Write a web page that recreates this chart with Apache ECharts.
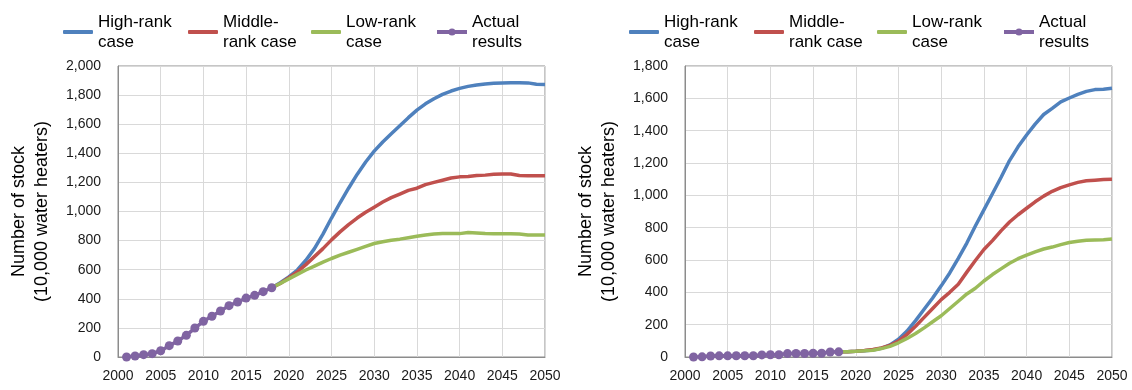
<!DOCTYPE html>
<html>
<head>
<meta charset="utf-8">
<script src="https://cdn.jsdelivr.net/npm/echarts@6/dist/echarts.min.js"></script>
<style>
html,body{margin:0;padding:0;background:#fff;}
#c{width:1132px;height:390px;}
</style>
</head>
<body>
<div id="c"></div>
<script>
// ---- data ----
const seriesNames = ["High-rank\ncase", "Middle-\nrank case", "Low-rank\ncase", "Actual\nresults"];
const yAxisTitle = "Number of stock\n(10,000 water heaters)";

const actualYears = [2001,2002,2003,2004,2005,2006,2007,2008,2009,2010,2011,2012,2013,2014,2015,2016,2017,2018];
const forecastYears = [2018,2019,2020,2021,2022,2023,2024,2025,2026,2027,2028,2029,2030,2031,2032,2033,2034,2035,2036,2037,2038,2039,2040,2041,2042,2043,2044,2045,2046,2047,2048,2049,2050];

const leftActual = [0,7,16,23,43,78,110,149,199,245,280,316,353,378,405,424,449,476];
const leftHigh = [476,510,550,598,665,745,845,955,1060,1160,1255,1340,1415,1478,1535,1590,1645,1697,1740,1775,1805,1828,1846,1860,1870,1877,1882,1884,1885,1885,1884,1875,1873];
const leftMid  = [476,505,545,585,635,690,745,805,860,910,955,995,1030,1065,1095,1120,1145,1160,1185,1200,1215,1230,1238,1240,1248,1250,1256,1258,1258,1248,1245,1245,1245];
const leftLow  = [476,505,537,568,598,625,652,677,700,720,740,760,780,792,802,810,820,830,838,845,848,848,848,855,852,848,847,847,847,845,838,838,838];

const rightActual = [0,1,6,7,7,8,8,8,13,14,14,21,22,22,23,23,31,32];
const rightHigh = [32,33,35,38,43,54,75,110,160,225,295,365,440,520,610,705,810,910,1010,1110,1215,1300,1373,1440,1500,1538,1578,1602,1625,1643,1654,1656,1662];
const rightMid  = [32,33,36,40,46,56,72,98,140,190,245,300,355,400,450,525,597,665,720,780,835,880,920,960,995,1025,1048,1065,1080,1090,1094,1098,1099];
const rightLow  = [32,33,35,38,42,52,66,88,115,145,180,218,255,300,345,390,425,470,510,545,580,608,630,650,668,680,695,708,716,722,724,726,730];

const xMin = 2000, xMax = 2050, xStep = 5;
const leftYMax = 2000, rightYMax = 1800, yStep = 200;

// ---- styles ----
const colors = ["#4f81bd", "#c0504d", "#9bbb59", "#8064a2"];
const FONT = "Liberation Sans, Arial, sans-serif";

function zip(xs, ys){ return xs.map((x,i)=>[x, ys[i]]); }

function xAxisCfg(gi){
  return {
    type:'value', gridIndex:gi, min:xMin, max:xMax, interval:xStep,
    axisLine:{show:true, lineStyle:{color:'#8c8c8c', width:1}},
    axisTick:{show:false},
    axisLabel:{color:'#1a1a1a', fontFamily:FONT, fontSize:14, margin:12, formatter:v=>String(v)},
    splitLine:{show:true, lineStyle:{color:'#d9d9d9', width:1}}
  };
}
function yAxisCfg(gi, max){
  return {
    type:'value', gridIndex:gi, min:0, max:max, interval:yStep,
    name: yAxisTitle, nameLocation:'middle', nameRotate:90, nameGap:64,
    nameTextStyle:{color:'#000', fontFamily:FONT, fontSize:18, lineHeight:23},
    axisLine:{show:true, lineStyle:{color:'#8c8c8c', width:1}},
    axisTick:{show:false},
    axisLabel:{color:'#1a1a1a', fontFamily:FONT, fontSize:14, margin:17},
    splitLine:{show:true, lineStyle:{color:'#d9d9d9', width:1}}
  };
}
function lineSeries(name, gi, data, color){
  return {
    name:name, type:'line', xAxisIndex:gi, yAxisIndex:gi, data:data,
    showSymbol:false, symbol:'none', smooth:false,
    lineStyle:{color:color, width:3.5}, itemStyle:{color:color},
    emphasis:{disabled:true}, animation:false, z:2
  };
}
function actualSeries(name, gi, data, color){
  return {
    name:name, type:'line', xAxisIndex:gi, yAxisIndex:gi, data:data,
    symbol:'circle', symbolSize:9, showSymbol:true, smooth:false,
    lineStyle:{color:color, width:3.5}, itemStyle:{color:color},
    emphasis:{disabled:true}, animation:false, z:3
  };
}

const legendLefts = [[58,183,306,430],[624,749,872,997]];
const legends = [];
legendLefts.forEach(row=>{
  row.forEach((lx,i)=>{
    const isActual = (i === 3);
    const lg = {
      data: isActual ? [seriesNames[i]] : [{name:seriesNames[i], icon:'roundRect'}],
      left: lx, top: 7, orient:'horizontal',
      itemWidth:30, itemHeight: isActual ? 9 : 4, itemGap:0, selectedMode:false,
      textStyle:{color:'#000', fontFamily:FONT, fontSize:17, lineHeight:20}
    };
    if (isActual) lg.lineStyle = {width:4, color:colors[3]};
    legends.push(lg);
  });
});

const option = {
  backgroundColor:'#fff',
  animation:false,
  legend: legends,
  grid:[
    {left:118, right:1132-545, top:66, bottom:390-357, show:true, borderColor:'#8c8c8c', borderWidth:1, containLabel:false},
    {left:685, right:1132-1112, top:66, bottom:390-357, show:true, borderColor:'#8c8c8c', borderWidth:1, containLabel:false}
  ],
  xAxis:[xAxisCfg(0), xAxisCfg(1)],
  yAxis:[yAxisCfg(0, leftYMax), yAxisCfg(1, rightYMax)],
  series:[
    lineSeries(seriesNames[0], 0, zip(forecastYears, leftHigh), colors[0]),
    lineSeries(seriesNames[1], 0, zip(forecastYears, leftMid), colors[1]),
    lineSeries(seriesNames[2], 0, zip(forecastYears, leftLow), colors[2]),
    actualSeries(seriesNames[3], 0, zip(actualYears, leftActual), colors[3]),
    lineSeries(seriesNames[0], 1, zip(forecastYears, rightHigh), colors[0]),
    lineSeries(seriesNames[1], 1, zip(forecastYears, rightMid), colors[1]),
    lineSeries(seriesNames[2], 1, zip(forecastYears, rightLow), colors[2]),
    actualSeries(seriesNames[3], 1, zip(actualYears, rightActual), colors[3])
  ]
};

const chart = echarts.init(document.getElementById('c'), null, {renderer:'canvas'});
chart.setOption(option);
</script>
</body>
</html>
